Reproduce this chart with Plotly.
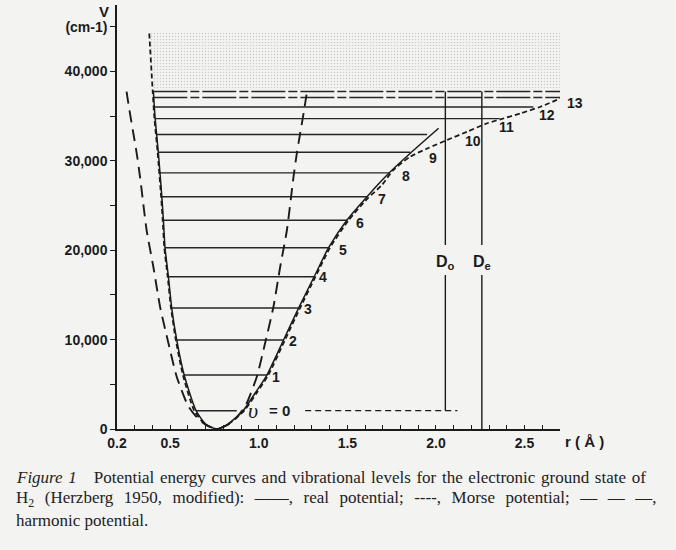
import plotly.graph_objects as go

# ---------------- data ----------------
# real potential (solid curve): r in Angstrom, energy in cm-1
real_r = [0.405, 0.415, 0.433, 0.453, 0.462, 0.471, 0.490, 0.509, 0.537, 0.579, 0.646, 0.700,
          0.763, 0.825, 0.912, 0.980, 1.046, 1.140, 1.224, 1.313, 1.394, 1.498, 1.611, 1.724,
          1.855, 2.015]
real_E = [37840, 34790, 30990, 25990, 23300, 20280, 17040, 13500, 9960, 6040, 2050, 560,
          0, 550, 2050, 4030, 6040, 9960, 13500, 17040, 20280, 23380, 25990, 28410,
          30840, 33640]

# Morse potential (short dashes)
morse_r = [0.382, 0.401, 0.411, 0.429, 0.449, 0.458, 0.467, 0.486, 0.505, 0.532, 0.572, 0.636,
           0.695, 0.763, 0.830, 0.918, 0.988, 1.054, 1.148, 1.232, 1.320, 1.402, 1.505, 1.612,
           1.695, 1.759, 1.855, 1.957, 2.063, 2.176, 2.289, 2.364, 2.477, 2.590, 2.703]
morse_E = [44250, 37900, 34790, 30990, 25990, 23300, 20280, 17040, 13500, 9960, 6040, 2050,
           560, 0, 560, 2050, 4030, 6040, 9960, 13500, 17040, 20280, 23300, 25750,
           27290, 28970, 30460, 31430, 32330, 33260, 34200, 34640, 35310, 36050, 36990]

# harmonic potential (long dashes)
harm_r = [0.254, 0.270, 0.292, 0.311, 0.330, 0.367, 0.405, 0.443, 0.490, 0.537, 0.601, 0.660,
          0.705, 0.763, 0.821, 0.866, 0.925, 0.989, 1.036, 1.083, 1.121, 1.159, 1.196, 1.215,
          1.234, 1.256, 1.272]
harm_E = [37730, 35680, 33110, 30870, 28190, 22260, 18150, 13680, 9620, 5850, 2600, 1100,
          420, 0, 420, 1100, 2600, 5850, 9620, 13680, 18150, 22260, 28190, 30870,
          33110, 35680, 37730]

# vibrational levels v = 0 ... 14
level_E = [2047, 6040, 9955, 13535, 17036, 20280, 23345, 25985, 28650, 30950, 32940, 34720,
           36020, 37080, 37750]
level_left = [0.646, 0.579, 0.537, 0.509, 0.490, 0.471, 0.462, 0.453, 0.443, 0.433, 0.424,
              0.415, 0.409, 0.405, 0.405]
level_right = [0.876, 1.046, 1.140, 1.224, 1.313, 1.394, 1.500, 1.612, 1.736, 1.855, 1.950,
               2.360, 2.550, 2.700, 2.700]

# level number labels 1 ... 13
label_text = ["1", "2", "3", "4", "5", "6", "7", "8", "9", "10", "11", "12", "13"]
label_r = [1.100, 1.196, 1.280, 1.363, 1.474, 1.572, 1.695, 1.829, 1.985, 2.211, 2.398, 2.624, 2.782]
label_E = [5817, 9844, 13420, 17000, 20020, 23040, 25730, 28300, 30310, 32220, 33780, 35120, 36470]

# v = 0 dashed guide and dissociation energies
v0_dash_r = [1.262, 2.121]
D0_r = 2.053
De_r = 2.259
D_gap_E = [17230, 20580]
D_label_E = 18570
dissoc_E = 37750

# continuum (stippled) region
cont_r = [0.384, 2.700, 2.700, 0.401]
cont_E = [44300, 44300, 38050, 38050]

# axes
x_tickvals = [0.2, 0.5, 1.0, 1.5, 2.0, 2.5]
x_ticktext = ["0.2", "0.5", "1.0", "1.5", "2.0", "2.5"]
y_tickvals = [0, 10000, 20000, 30000, 40000, 45000]
y_ticktext = ["0", "10,000", "20,000", "30,000", "40,000", "(cm-1)"]

# caption lines
caption = [
    "<i>Figure 1</i>   Potential energy curves and vibrational levels for the electronic ground state of",
    "H<sub>2</sub> (Herzberg 1950, modified): ——, real potential; ----, Morse potential; — — —,",
    "harmonic potential.",
]

# ---------------- figure ----------------
INK = "#1b1b1b"
PAPER = "#f3f3f2"
SANS = "Liberation Sans, Arial, sans-serif"
SERIF = "Liberation Serif, Times New Roman, serif"

W, H = 676, 550
ML, MR, MT, MB = 117, 116, 5, 121
X0, X1 = 0.2, 2.70
Y0, Y1 = 0, 47430
PW = W - ML - MR
PH = H - MT - MB


def px(xp):
    return (xp - ML) / PW


def py(yp):
    return (H - MB - yp) / PH


fig = go.Figure()

# stippled continuum
fig.add_trace(go.Scatter(
    x=cont_r, y=cont_E, mode="lines", fill="toself", line=dict(width=0),
    fillcolor="rgba(0,0,0,0)",
    fillpattern=dict(shape=".", size=3, solidity=0.2, fgcolor="#a3a3a3", bgcolor="rgba(0,0,0,0)"),
    hoverinfo="skip", showlegend=False))

# vibrational level lines
for i, (e, a, b) in enumerate(zip(level_E, level_left, level_right)):
    dash = "34px,3px,9px,3px" if i >= 13 else "solid"
    fig.add_trace(go.Scatter(x=[a, b], y=[e, e], mode="lines",
                             line=dict(color="#262626", width=1.4, dash=dash),
                             hoverinfo="skip", showlegend=False))

# v = 0 dashed guide
fig.add_trace(go.Scatter(x=v0_dash_r, y=[level_E[0], level_E[0]], mode="lines",
                         line=dict(color=INK, width=1.3, dash="6px,4px"),
                         hoverinfo="skip", showlegend=False))

# D0 and De verticals
for rr, bottom in ((D0_r, level_E[0]), (De_r, 0)):
    fig.add_trace(go.Scatter(x=[rr, rr], y=[dissoc_E, D_gap_E[1]], mode="lines",
                             line=dict(color=INK, width=1.4), hoverinfo="skip", showlegend=False))
    fig.add_trace(go.Scatter(x=[rr, rr], y=[D_gap_E[0], bottom], mode="lines",
                             line=dict(color=INK, width=1.4), hoverinfo="skip", showlegend=False))

# Morse potential
fig.add_trace(go.Scatter(x=morse_r, y=morse_E, mode="lines",
                         line=dict(color=INK, width=1.8, dash="5px,3px", shape="spline", smoothing=0.6),
                         hoverinfo="skip", showlegend=False))
# harmonic potential
fig.add_trace(go.Scatter(x=harm_r, y=harm_E, mode="lines",
                         line=dict(color=INK, width=1.9, dash="12px,7px", shape="spline", smoothing=0.6),
                         hoverinfo="skip", showlegend=False))
# real potential
fig.add_trace(go.Scatter(x=real_r, y=real_E, mode="lines",
                         line=dict(color=INK, width=1.5, shape="spline", smoothing=0.6),
                         hoverinfo="skip", showlegend=False))

annotations = []


def note(x, y, text, font, xref="paper", yref="paper", xanchor="center", yanchor="middle"):
    annotations.append(dict(x=x, y=y, xref=xref, yref=yref, text=text, showarrow=False,
                            xanchor=xanchor, yanchor=yanchor, font=font))


for t, xr, ye in zip(label_text, label_r, label_E):
    note((xr - X0) / (X1 - X0), (ye - Y0) / (Y1 - Y0), t,
         dict(family=SANS, size=14, color=INK, weight="bold"))

# v = 0 label
note(0.965, level_E[0], "<i>υ</i>", dict(family=SERIF, size=22, color=INK), xref="x", yref="y")
note(1.115, level_E[0], "= 0", dict(family=SANS, size=15, color=INK, weight="bold"), xref="x", yref="y")

# D labels
note(D0_r, D_label_E, "D<sub>o</sub>", dict(family=SANS, size=16, color=INK, weight="bold"),
     xref="x", yref="y")
note(De_r, D_label_E, "D<sub>e</sub>", dict(family=SANS, size=16, color=INK, weight="bold"),
     xref="x", yref="y")

# axis titles
note(px(104), py(12), "V", dict(family=SANS, size=15, color=INK, weight="bold"))
note(px(563), py(441), "r ( Å )", dict(family=SANS, size=15, color=INK, weight="bold"),
     xanchor="left")

# caption (justified look through extra thin spaces)
HAIR = "\u200a"
THIN = "\u2009"
cap_y = [478, 499, 520]
cap_pad = [HAIR, THIN + HAIR + HAIR, ""]
for yy, t, pad in zip(cap_y, caption, cap_pad):
    if pad:
        t = t.replace(" ", " " + pad)
    note(px(14), py(yy), t, dict(family=SERIF, size=17, color="#222"), xanchor="left")

fig.update_layout(
    width=W, height=H,
    margin=dict(l=ML, r=MR, t=MT, b=MB, pad=0),
    paper_bgcolor=PAPER, plot_bgcolor="rgba(0,0,0,0)",
    showlegend=False,
    annotations=annotations,
    xaxis=dict(range=[X0, X1], showgrid=False, zeroline=False, showline=True, linecolor=INK,
               linewidth=1.5, tickmode="array", tickvals=x_tickvals, ticktext=x_ticktext,
               ticks="inside", ticklen=4, tickwidth=1.3, tickcolor=INK, automargin=False,
               minor=dict(tickmode="linear", tick0=0.2, dtick=0.1, ticks="inside", ticklen=4,
                          tickwidth=1.3, tickcolor=INK),
               tickfont=dict(family=SANS, size=14, color=INK, weight="bold"), fixedrange=True),
    yaxis=dict(range=[Y0, Y1], showgrid=False, zeroline=False, showline=True, linecolor=INK,
               linewidth=1.5, tickmode="array", tickvals=y_tickvals, ticktext=y_ticktext,
               ticks="outside", ticklen=5, tickwidth=1.3, tickcolor=INK, automargin=False,
               minor=dict(tickmode="linear", tick0=0, dtick=5000, ticks="outside", ticklen=5,
                          tickwidth=1.3, tickcolor=INK),
               tickfont=dict(family=SANS, size=14, color=INK, weight="bold"), fixedrange=True),
)

fig.write_html("out.html", config={"displayModeBar": False},
               post_script="document.body.style.margin='0';document.body.style.background='%s';" % PAPER)
